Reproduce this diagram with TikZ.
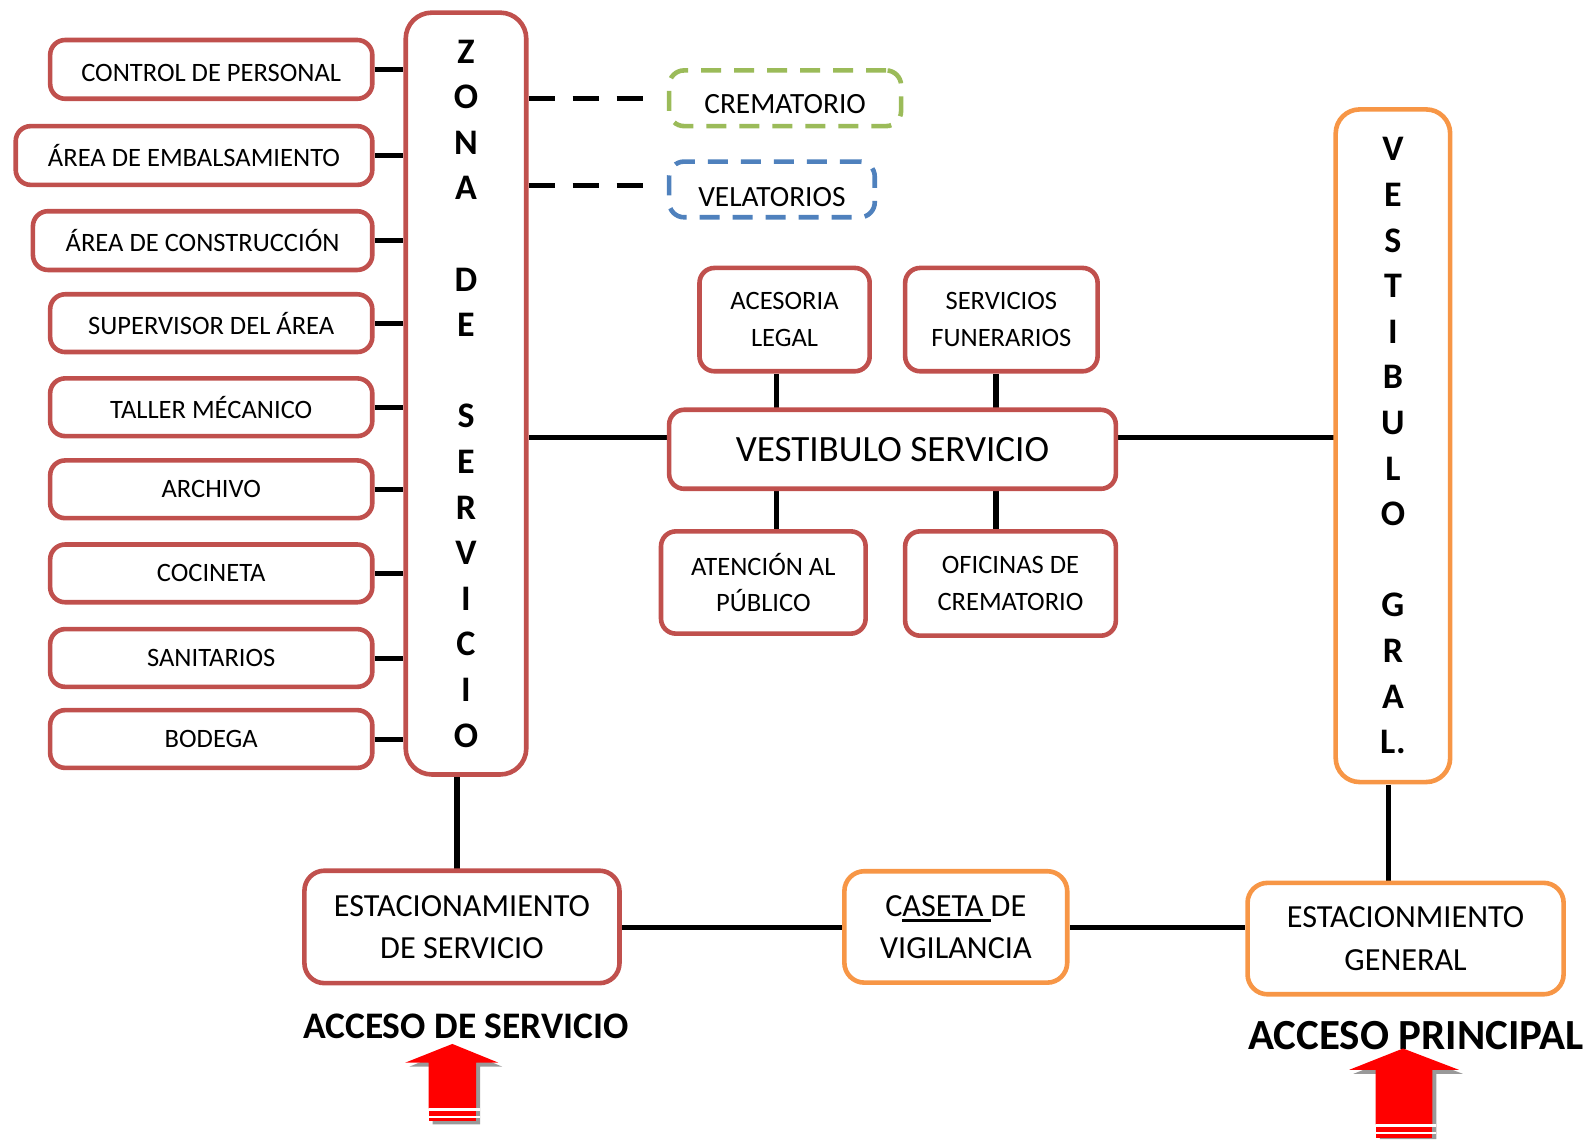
\documentclass[tikz,border=0pt]{standalone}
\usepackage{fontspec}
\setmainfont{Carlito}
\usetikzlibrary{calc}
\definecolor{rd}{HTML}{C0504D}
\definecolor{og}{HTML}{F79646}
\definecolor{gr}{HTML}{9BBB59}
\definecolor{bl}{HTML}{4F81BD}
\definecolor{arrred}{HTML}{FF0000}
\pgfdeclarelayer{bg}
\pgfsetlayers{bg,main}
\newcommand\myul[1]{\setbox0\hbox{#1}\rlap{\rule[-6pt]{\wd0}{2.6pt}}\box0}
\begin{document}
\begin{tikzpicture}[x=1pt,y=-1pt,scale=1.013,every node/.append style={transform shape},
 box/.style={draw=rd, line width=4.6pt, rounded corners=15pt, fill=white, inner sep=0pt, align=center},
 obox/.style={box, draw=og},
 sm/.style={font=\fontsize{26.2}{36}\selectfont},
 dsm/.style={font=\fontsize{29}{36}\selectfont, text depth=0pt},
 md/.style={font=\fontsize{31.8}{42}\selectfont},
 con/.style={line width=5.1pt, black},
 dcon/.style={line width=5.1pt, black, dash pattern=on 26pt off 18pt, shorten >=14pt},
 vert/.style={font=\bfseries\fontsize{35.5}{45}\selectfont},
 acc/.style={font=\bfseries\fontsize{37}{40}\selectfont},
 arrowfill/.style={fill=arrred, draw=none},
 arrowshadow/.style={fill=black!40, draw=none},
]
\useasboundingbox (0,0) rectangle (1565.6,1124.4);

% left column
\node[box, sm, text height=23pt, text depth=0pt, minimum width=318pt, minimum height=58pt] (cp) at (208.5,68.5) {CONTROL DE PERSONAL};
\node[box, sm, minimum width=352pt, minimum height=58pt] (ae) at (191.5,153.5) {ÁREA DE EMBALSAMIENTO};
\node[box, sm, minimum width=335pt, minimum height=58pt] (ac) at (200,237.5) {ÁREA DE CONSTRUCCIÓN};
\node[box, sm, minimum width=318pt, minimum height=57pt] (sa) at (208.5,319) {SUPERVISOR DEL ÁREA};
\node[box, sm, minimum width=318pt, minimum height=57pt] (tm) at (208.5,402) {TALLER MÉCANICO};
\node[box, sm, minimum width=318pt, minimum height=57pt] (ar) at (208.5,483) {ARCHIVO};
\node[box, sm, minimum width=318pt, minimum height=57pt] (co) at (208.5,566) {COCINETA};
\node[box, sm, minimum width=318pt, minimum height=57pt] (sn) at (208.5,649.5) {SANITARIOS};
\node[box, sm, minimum width=318pt, minimum height=57pt] (bo) at (208.5,729.5) {BODEGA};

% zona de servicio
\node[box, vert, rounded corners=26pt, minimum width=119pt, minimum height=752pt] (zona) at (460,388.5)
 {Z\\O\\N\\A\\\mbox{}\\D\\E\\\mbox{}\\S\\E\\R\\V\\I\\C\\I\\O};

% dashed boxes
\node[box, dsm, text height=31pt, draw=gr, dash pattern=on 20pt off 13pt, minimum width=229pt, minimum height=55pt] (crem) at (775,97) {CREMATORIO};
\node[box, dsm, text height=33pt, draw=bl, dash pattern=on 20pt off 13pt, minimum width=203pt, minimum height=55pt] (vel) at (762,187) {VELATORIOS};

% central group
\node[box, sm, minimum width=168pt, minimum height=102pt] (al) at (774.5,315.5) {ACESORIA\\LEGAL};
\node[box, sm, minimum width=190pt, minimum height=102pt] (sf) at (988.5,315.5) {SERVICIOS\\FUNERARIOS};
\node[box, font=\fontsize{36.6}{40}\selectfont, minimum width=441pt, minimum height=78pt] (vs) at (881,443.5) {VESTIBULO SERVICIO};
\node[box, sm, minimum width=202pt, minimum height=101pt] (ap) at (753.5,575) {ATENCIÓN AL\\PÚBLICO};
\node[box, sm, minimum width=208pt, minimum height=103pt] (oc) at (997.5,576) {OFICINAS DE\\CREMATORIO};

% vestibulo general
\node[obox, vert, rounded corners=24pt, minimum width=113pt, minimum height=664pt] (vg) at (1375,440)
 {V\\E\\S\\T\\I\\B\\U\\L\\O\\\mbox{}\\G\\R\\A\\L.};

% bottom row
\node[box, md, rounded corners=20pt, minimum width=311pt, minimum height=111pt] (es) at (456,915) {ESTACIONAMIENTO\\DE SERVICIO};
\node[obox, md, rounded corners=20pt, minimum width=220pt, minimum height=110pt] (cv) at (943.5,915) {C\myul{ASETA }DE\\VIGILANCIA};
\node[obox, md, rounded corners=20pt, minimum width=312pt, minimum height=110pt] (eg) at (1387.5,926.5) {ESTACIONMIENTO\\GENERAL};

\node[acc] (as) at (460,1013) {ACCESO DE SERVICIO};
\node[acc, font=\bfseries\fontsize{42.4}{44}\selectfont] (apr) at (1398,1022) {ACCESO PRINCIPAL};

\begin{pgfonlayer}{bg}
\foreach \n in {cp,ae,ac,sa,tm,ar,co,sn,bo}
  \draw[con] (\n.east) -- (\n.east -| zona.west);
\draw[dcon] (zona.east |- crem.west) -- (crem.west);
\draw[dcon] ([yshift=4pt]zona.east |- vel.west) -- ([yshift=4pt]vel.west);
\draw[con] ([xshift=-8.5pt]al.south) -- ([xshift=-8.5pt]al.south |- vs.north);
\draw[con] ([xshift=-5.5pt]sf.south) -- ([xshift=-5.5pt]sf.south |- vs.north);
\draw[con] ([xshift=12.5pt]ap.north) -- ([xshift=12.5pt]ap.north |- vs.south);
\draw[con] ([xshift=-14.5pt]oc.north) -- ([xshift=-14.5pt]oc.north |- vs.south);
\draw[con] ([yshift=11.5pt]vs.west) -- ([yshift=11.5pt]vs.west -| zona.east);
\draw[con] ([yshift=11.5pt]vs.east) -- ([yshift=11.5pt]vs.east -| vg.west);
\draw[con] ([xshift=-9pt]zona.south) -- ([xshift=-9pt]zona.south |- es.north);
\draw[con] ([xshift=-5pt]vg.south) -- ([xshift=-5pt]vg.south |- eg.north);
\draw[con] (es.east) -- (es.east -| cv.west);
\draw[con] (cv.east) -- (cv.east -| eg.west);
\end{pgfonlayer}

% red arrow (left)
\fill[arrowshadow] (404,1053) -- (450,1034) -- (496,1053) -- (474,1053) -- (474,1110) -- (427,1110) -- (427,1053) -- cycle;
\fill[arrowfill] (400,1049) -- (446.5,1030.5) -- (492,1049) -- (470,1049) -- (470,1094) -- (423,1094) -- (423,1049) -- cycle;
\fill[white] (423,1094) rectangle (474,1097);
\fill[arrowfill] (423,1097) rectangle (470,1102);
\fill[white] (423,1102) rectangle (474,1104);
\fill[arrowfill] (423,1104) rectangle (470,1106.5);
% red arrow (right)
\fill[arrowshadow] (1336,1060) -- (1389,1039) -- (1444,1060) -- (1418,1060) -- (1418,1124.4) -- (1362,1124.4) -- (1362,1060) -- cycle;
\fill[arrowfill] (1332,1056) -- (1385,1035) -- (1440,1056) -- (1414,1056) -- (1414,1110) -- (1358,1110) -- (1358,1056) -- cycle;
\fill[white] (1358,1110) rectangle (1418,1112);
\fill[arrowfill] (1358,1112) rectangle (1414,1117);
\fill[white] (1358,1117) rectangle (1418,1119);
\fill[arrowfill] (1358,1119) rectangle (1414,1123);
\end{tikzpicture}
\end{document}
